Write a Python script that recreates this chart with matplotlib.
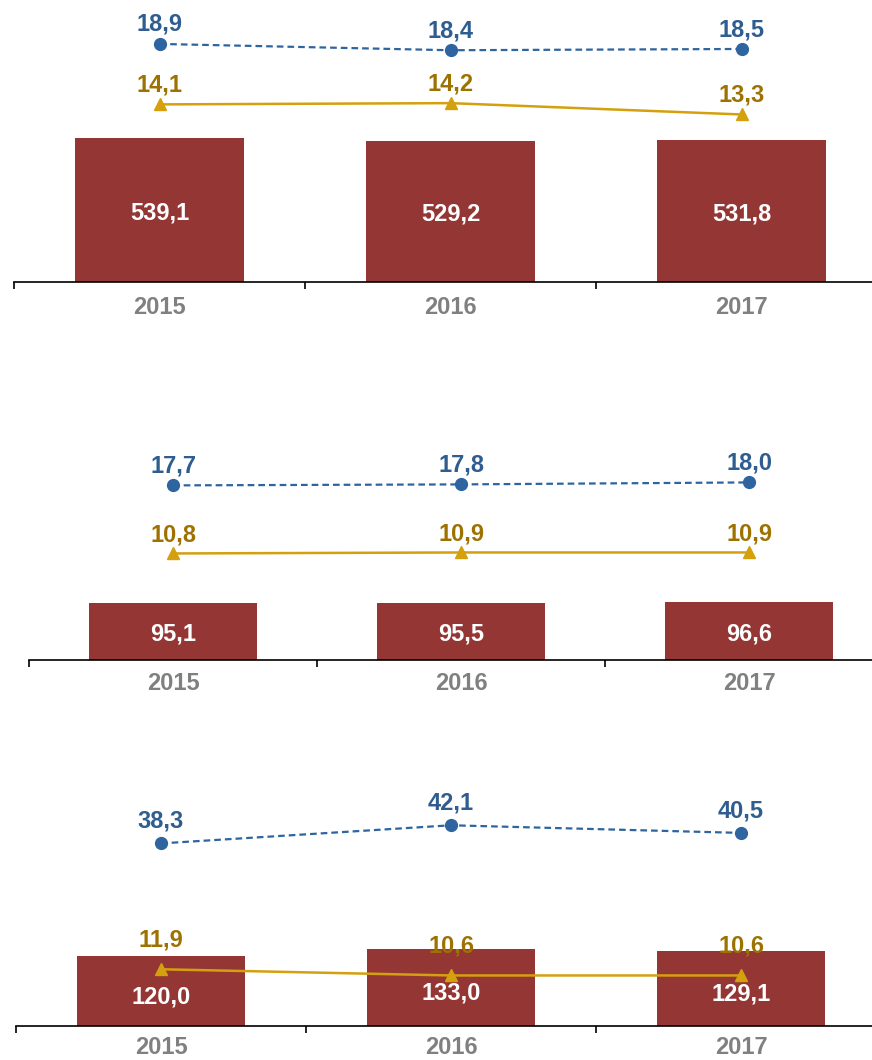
import numpy as np
import matplotlib.pyplot as plt

plt.rcParams['font.family'] = ['Liberation Sans', 'DejaVu Sans']
plt.rcParams['font.weight'] = 'bold'

years = ['2015', '2016', '2017']

bars_1 = [539.1, 529.2, 531.8]
blue_1 = [18.9, 18.4, 18.5]
gold_1 = [14.1, 14.2, 13.3]

bars_2 = [95.1, 95.5, 96.6]
blue_2 = [17.7, 17.8, 18.0]
gold_2 = [10.8, 10.9, 10.9]

bars_3 = [120.0, 133.0, 129.1]
blue_3 = [38.3, 42.1, 40.5]
gold_3 = [11.9, 10.6, 10.6]

BAR = '#943634'
BLUE = '#2E64A0'
BLUE_TXT = '#2F5D8F'
GOLD = '#D4A00E'
GOLD_TXT = '#9E7200'
GRAY = '#808080'

W, H = 872, 1060
fig = plt.figure(figsize=(W / 100, H / 100), dpi=100)


def fmt(v):
    return f'{v:.1f}'.replace('.', ',')


# (left px, category width px, baseline px, height px, bar ymax, line ymax,
#  label offsets, bar label shift, tick pad)
panels = [
    (14, 291, 282, 262, 981, 20.8, (14, 14), -2, 10, bars_1, blue_1, gold_1),
    (29, 288, 660, 220, 369, 22.3, (14, 13), -2, 9, bars_2, blue_2, gold_2),
    (16, 290, 1026, 236, 407, 49.5, (16, 21), -4, 7, bars_3, blue_3, gold_3),
]

for left, cw, base, h, ymax, y2max, offs, shift, pad, bars, blue, gold in panels:
    ax = fig.add_axes([left / W, 1 - base / H, 3 * cw / W, h / H])
    x = np.arange(len(years))
    ax.bar(x, bars, width=0.58, color=BAR, zorder=2)
    for xi, v in zip(x, bars):
        ax.annotate(fmt(v), (xi, v / 2), xytext=(0, shift), textcoords='offset points',
                    ha='center', va='center', color='white',
                    fontsize=17, fontweight='bold', zorder=3)
    ax.set_xlim(-0.5, 2.5)
    ax.set_ylim(0, ymax)
    for s in ['top', 'left', 'right']:
        ax.spines[s].set_visible(False)
    ax.spines['bottom'].set_linewidth(1.2)
    ax.set_yticks([])
    ax.set_xticks(x)
    ax.set_xticklabels(years, color=GRAY, fontsize=17, fontweight='bold')
    ax.tick_params(axis='x', which='major', length=0, pad=pad)
    ax.set_xticks([-0.5, 0.5, 1.5, 2.5], minor=True)
    ax.tick_params(axis='x', which='minor', length=5, width=1.2, direction='out')

    ax2 = ax.twinx()
    ax2.set_ylim(0, y2max)
    ax2.axis('off')
    ax2.plot(x, blue, color=BLUE, lw=1.6, dashes=(3, 1.8), marker='o', ms=8.5)
    ax2.plot(x, gold, color=GOLD, lw=1.8, marker='^', ms=9)
    for xi, v in zip(x, blue):
        ax2.annotate(fmt(v), (xi, v), xytext=(0, offs[0]), textcoords='offset points',
                     ha='center', va='center', color=BLUE_TXT, fontsize=17, fontweight='bold')
    for xi, v in zip(x, gold):
        ax2.annotate(fmt(v), (xi, v), xytext=(0, offs[1]), textcoords='offset points',
                     ha='center', va='center', color=GOLD_TXT, fontsize=17, fontweight='bold')

fig.savefig('out.png', dpi=100)
